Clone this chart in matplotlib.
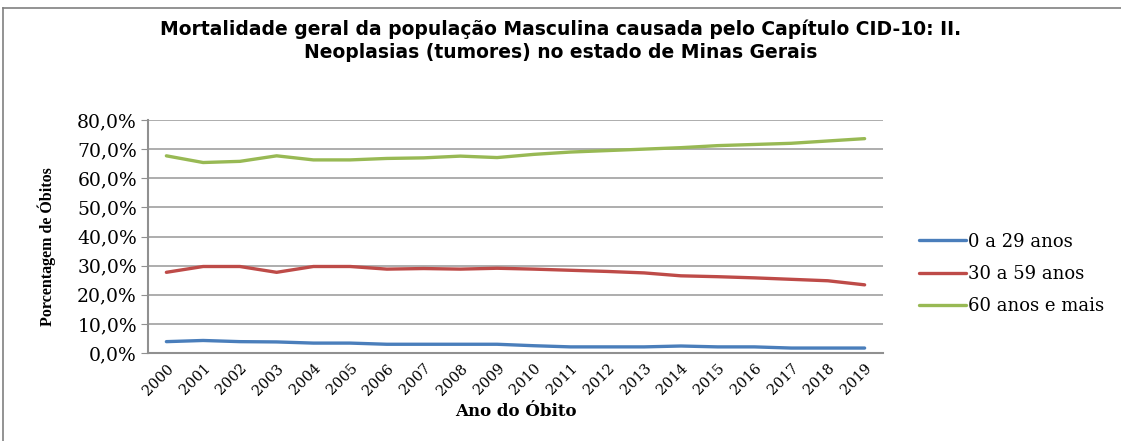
#!/usr/bin/env python

import matplotlib
matplotlib.use('Agg')
import matplotlib.pyplot as plt
from matplotlib.ticker import FuncFormatter
from matplotlib.lines import Line2D

years = [str(y) for y in range(2000, 2020)]
idade_0_29 = [3.9, 4.3, 3.9, 3.8, 3.4, 3.4, 3.0, 3.0, 3.0, 3.0,
              2.5, 2.1, 2.1, 2.1, 2.4, 2.1, 2.1, 1.7, 1.7, 1.7]
idade_30_59 = [27.7, 29.7, 29.7, 27.7, 29.7, 29.7, 28.8, 29.0, 28.8, 29.1,
               28.8, 28.4, 28.0, 27.5, 26.5, 26.2, 25.8, 25.3, 24.8, 23.4]
idade_60 = [67.7, 65.4, 65.8, 67.7, 66.3, 66.3, 66.8, 67.0, 67.6, 67.1,
            68.2, 69.0, 69.5, 70.0, 70.5, 71.2, 71.6, 72.0, 72.8, 73.6]
labels = ['0 a 29 anos', '30 a 59 anos', '60 anos e mais']
colors = ['#4A7EBB', '#BE4B48', '#98B954']

serif = 'DejaVu Serif'

fig = plt.figure(figsize=(11.21, 4.41), dpi=100)
ax = fig.add_axes([148 / 1121, 1 - 353 / 441, (883 - 148) / 1121, (353 - 120) / 441])

x = list(range(len(years)))
for vals, lab, col in zip([idade_0_29, idade_30_59, idade_60], labels, colors):
    ax.plot(x, vals, color=col, lw=2.4, label=lab, solid_capstyle='round')

ax.set_xlim(-0.5, len(years) - 0.5)
ax.set_ylim(0, 80)
ax.set_yticks(range(0, 81, 10))
ax.yaxis.set_major_formatter(FuncFormatter(lambda v, p: f'{v:.1f}%'.replace('.', ',')))
ax.set_xticks(x)
ax.set_xticklabels(years, rotation=45, ha='right', rotation_mode='anchor',
                   fontfamily=serif, fontsize=10.5)
for t in ax.get_yticklabels():
    t.set_fontfamily(serif)
    t.set_fontsize(13.5)
ax.grid(axis='y', color='#A0A0A0', lw=1.2)
ax.set_axisbelow(True)
for s in ['top', 'right']:
    ax.spines[s].set_visible(False)
ax.spines['left'].set_color('#909090')
ax.spines['bottom'].set_color('#909090')
ax.spines['left'].set_linewidth(1.5)
ax.spines['bottom'].set_linewidth(1.5)
ax.tick_params(axis='y', length=5, color='#909090', pad=3)
ax.tick_params(axis='x', length=0, pad=6)

ax.set_ylabel('Porcentagem de Óbitos', fontfamily='Liberation Serif', fontweight='bold',
              fontsize=11.5)
ax.yaxis.set_label_coords((56 - 148) / 735, (353 - 247) / 233)
ax.set_xlabel('Ano do Óbito', fontfamily=serif, fontweight='bold', fontsize=12, labelpad=4)

fig.text(0.5, 1 - 41 / 441, 'Mortalidade geral da população Masculina causada pelo Capítulo CID-10: II.\n'
         'Neoplasias (tumores) no estado de Minas Gerais',
         ha='center', va='center', fontfamily='DejaVu Sans', fontweight='bold',
         fontsize=13.5, linespacing=1.25)

leg = fig.legend(loc='center left', bbox_to_anchor=(903 / 1121, 1 - 274 / 441),
                 frameon=False, prop={'family': serif, 'size': 13},
                 handlelength=2.6, handletextpad=0.1, labelspacing=0.8)

# moldura do grafico
fig.add_artist(Line2D([3 / 1121, 1], [1 - 8 / 441, 1 - 8 / 441], color='#808080', lw=1.2))
fig.add_artist(Line2D([3 / 1121, 3 / 1121], [0, 1 - 8 / 441], color='#808080', lw=1.2))

fig.savefig('out.png', dpi=100)
